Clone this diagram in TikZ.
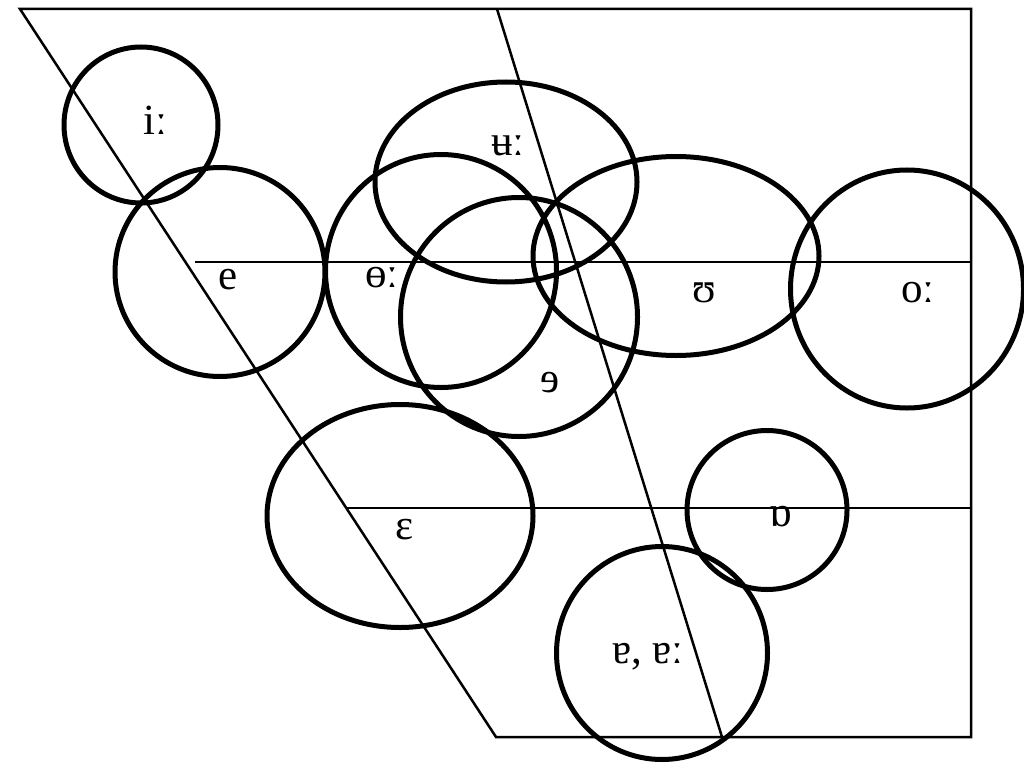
\documentclass[tikz,border=0pt]{standalone}
\usepackage{fontspec}
\setmainfont{Liberation Serif}
\usetikzlibrary{shapes.geometric}

\begin{document}
\begin{tikzpicture}[
    x=1pt, y=-1pt,
    vowel/.style={draw, ellipse, line width=5pt, inner sep=0pt},
    lbl/.style={font=\fontsize{43}{50}\selectfont, inner sep=0pt},
    frame/.style={line width=2.5pt},
  ]
    \useasboundingbox (0,0) rectangle (1024,762);

    % chart frame
    \coordinate (tl) at (20,9);
    \coordinate (tm) at (497,9);
    \coordinate (tr) at (971,9);
    \coordinate (bl) at (496,737);
    \coordinate (bm) at (722,737);
    \coordinate (br) at (971,737);
    \coordinate (ml) at (195,262);
    \coordinate (mr) at (971,262);
    \coordinate (ll) at (346,508);
    \coordinate (lr) at (971,508);
    \draw[frame] (tl) -- (tr) -- (br) -- (bl) -- cycle;
    \draw[frame] (tm) -- (bm);
    \draw[frame] (ml) -- (mr);
    \draw[frame] (ll) -- (lr);

    % vowel areas
    \node[vowel, minimum width=154pt, minimum height=156pt] (c-i) at (141,125) {};
    \node[vowel, minimum width=210pt, minimum height=209pt] (c-e) at (220,272) {};
    \node[vowel, minimum width=231pt, minimum height=233pt] (c-o) at (441,271) {};
    \node[vowel, minimum width=262pt, minimum height=200pt] (c-u) at (506,182) {};
    \node[vowel, minimum width=237pt, minimum height=239pt] (c-schwa) at (519,317) {};
    \node[vowel, minimum width=286pt, minimum height=199pt] (c-uu) at (676,256) {};
    \node[vowel, minimum width=233pt, minimum height=238pt] (c-oo) at (907,289) {};
    \node[vowel, minimum width=266pt, minimum height=223pt] (c-eps) at (400,516) {};
    \node[vowel, minimum width=160pt, minimum height=159pt] (c-ah) at (767,510) {};
    \node[vowel, minimum width=211pt, minimum height=213pt] (c-a) at (662,653) {};

    % labels
    \node[lbl] (l-i) at (155,120) {iː};
    \node[lbl] (l-u) at (508,146) {ʉː};
    \node[lbl] (l-e) at (228,280) {e};
    \node[lbl] (l-o) at (382,278) {ɵː};
    \node[lbl] (l-uu) at (704,293) {ʊ};
    \node[lbl] (l-oo) at (918,293) {oː};
    \node[lbl] (l-schwa) at (550,383) {ɘ};
    \node[lbl] (l-eps) at (405,530) {ɛ};
    \node[lbl] (l-ah) at (781,517) {ɒ};
    \node[lbl] (l-a) at (648,657) {ɐ, ɐː};
  \end{tikzpicture}
\end{document}
